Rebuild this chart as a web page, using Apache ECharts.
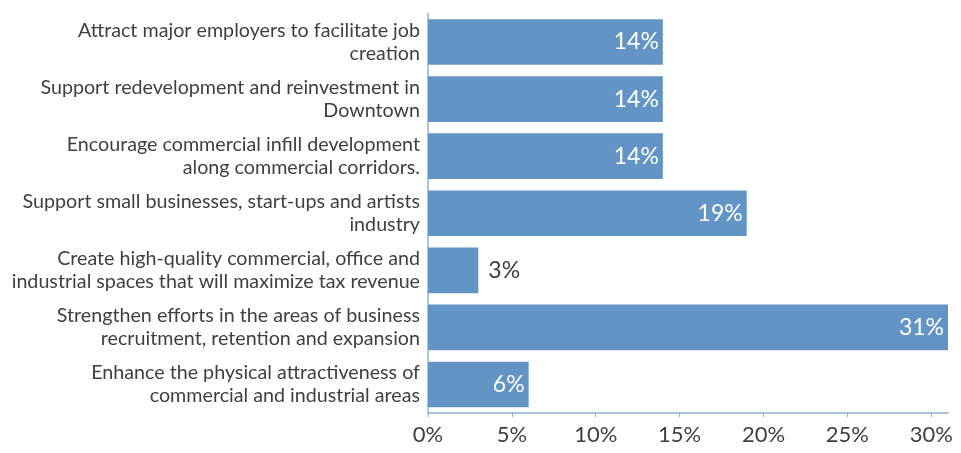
<!DOCTYPE html>
<html>
<head>
<meta charset="utf-8">
<script src="https://cdn.jsdelivr.net/npm/echarts@6/dist/echarts.min.js"></script>
<style>
  html, body { margin: 0; padding: 0; background: #fff; }
  #chart { width: 961px; height: 453px; }
</style>
</head>
<body>
<div id="chart"></div>
<script>
// Economic development priorities, share of responses (%)
const categories = [
  "Attract major employers to facilitate job\ncreation",
  "Support redevelopment and reinvestment in\nDowntown",
  "Encourage commercial infill development\nalong commercial corridors.",
  "Support small businesses, start-ups and artists\nindustry",
  "Create high-quality commercial, office and\nindustrial spaces that will maximize tax revenue",
  "Strengthen efforts in the areas of business\nrecruitment, retention and expansion",
  "Enhance the physical attractiveness of\ncommercial and industrial areas"
];
const shares = [14, 14, 14, 19, 3, 31, 6];
const axisTicks = [0, 5, 10, 15, 20, 25, 30];

const barColor = "#6394c6";
const textColor = "#3f3f3f";

const seriesData = shares.map(function (v) {
  // short bars carry their value outside the bar
  if (v < 5) {
    return { value: v, label: { position: "right", distance: 10, color: textColor } };
  }
  return { value: v };
});

const chart = echarts.init(document.getElementById("chart"), null, { renderer: "canvas" });
chart.setOption({
  animation: false,
  backgroundColor: "#ffffff",
  grid: { left: 428, right: 13, top: 13.5, bottom: 40, containLabel: false },
  xAxis: {
    type: "value",
    min: 0,
    max: 31,
    interval: 5,
    splitLine: { show: false },
    axisLine: { show: true, lineStyle: { color: "#8fb0d6", width: 1.5 } },
    axisTick: { show: true, length: 4, lineStyle: { color: "#8fb0d6" } },
    axisLabel: {
      showMaxLabel: false,
      margin: 11,
      fontFamily: "Lato, 'Noto Sans', sans-serif",
      fontSize: 22,
      color: textColor,
      formatter: function (v) { return axisTicks.indexOf(v) >= 0 ? v + "%" : ""; }
    }
  },
  yAxis: {
    type: "category",
    inverse: true,
    data: categories,
    axisLine: { show: true, lineStyle: { color: "#8fb0d6", width: 1.5 } },
    axisTick: { show: false },
    axisLabel: {
      margin: 8,
      fontFamily: "Lato, 'Noto Sans', sans-serif",
      fontSize: 19.7,
      lineHeight: 23,
      color: textColor,
      align: "right"
    }
  },
  series: [{
    type: "bar",
    data: seriesData,
    barCategoryGap: "20%",
    itemStyle: { color: barColor },
    label: {
      show: true,
      position: "insideRight",
      distance: 4,
      fontFamily: "Lato, 'Noto Sans', sans-serif",
      fontSize: 23,
      color: "#ffffff",
      formatter: function (p) { return p.value + "%"; }
    }
  }]
});
</script>
</body>
</html>
